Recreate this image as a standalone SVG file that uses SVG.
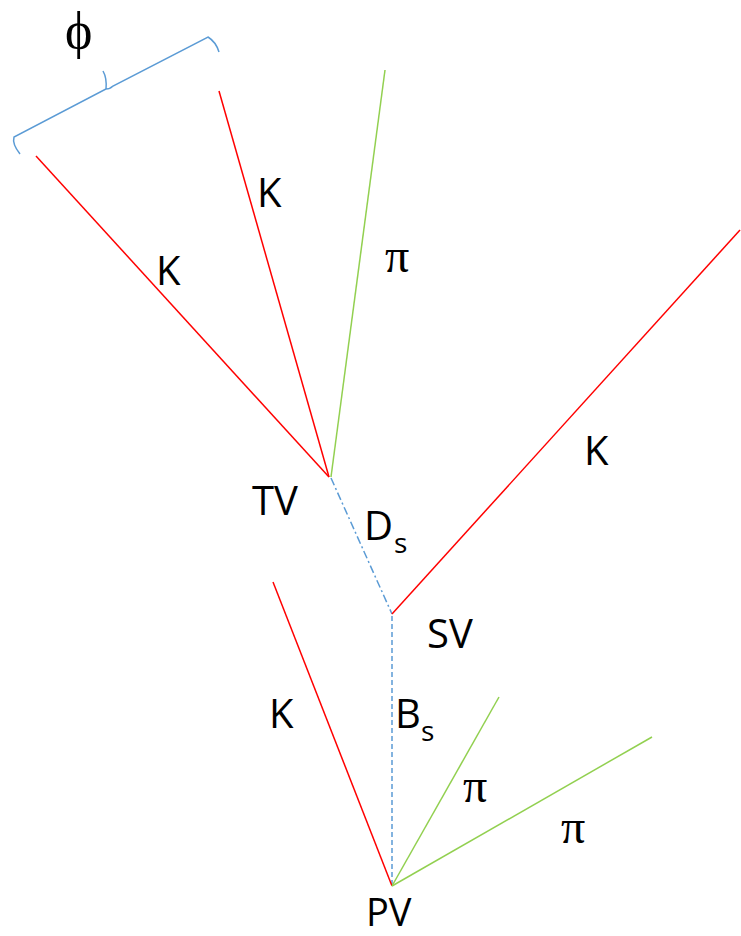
<svg xmlns="http://www.w3.org/2000/svg" width="741" height="936" viewBox="0 0 741 936">
<style>
.k{stroke:#FF0000;stroke-width:1.5;fill:none}
.p{stroke:#92D050;stroke-width:1.5;fill:none}
.b{stroke:#5B9BD5;stroke-width:1.5;fill:none}
.t{font-family:"Open Sans","Liberation Sans",sans-serif;font-size:40px;fill:#000}
.s{font-family:"Open Sans","Liberation Sans",sans-serif;font-size:28px;fill:#000}
.g{font-family:"Liberation Serif","DejaVu Serif",serif;font-size:48px;fill:#000}
.f{font-family:"Liberation Serif","DejaVu Serif",serif;font-size:52px;fill:#000}
</style>
<rect width="741" height="936" fill="#fff"/>
<g id="connectors">
<line class="k" x1="36" y1="156" x2="329" y2="477"/>
<line class="k" x1="219" y1="91" x2="329" y2="477"/>
<line class="p" x1="385" y1="70" x2="331" y2="477"/>
<line class="b" x1="331" y1="478" x2="392" y2="614" stroke-dasharray="8,3,2,3"/>
<line class="k" x1="392" y1="614" x2="740" y2="230"/>
<line class="b" x1="392" y1="616" x2="392" y2="885" stroke-dasharray="5,3"/>
<line class="k" x1="273" y1="582" x2="392" y2="886"/>
<line class="p" x1="392" y1="886" x2="499" y2="697"/>
<line class="p" x1="392" y1="886" x2="652" y2="737"/>
<path class="b" d="M20,154 Q12,144 14,137 L106,89 Q107,78 103,71 M106,89 Q110,89 113,86 L208,37 Q216,42 219,52"/>
</g>
<g id="TV"><text class="t" x="252" y="515">TV</text></g>
<g id="SV"><text class="t" x="427" y="648">SV</text></g>
<g id="PV"><text class="t" x="366" y="926" style="font-size:38px">PV</text></g>
<g id="labels">
<text class="f" x="65" y="48">ϕ</text>
<text class="t" x="156" y="285">K</text>
<text class="t" x="257" y="207">K</text>
<text class="g" x="385" y="272">π</text>
<text class="t" x="584" y="465">K</text>
<text class="t" x="364" y="540">D</text><text class="s" x="394" y="553">s</text>
<text class="t" x="269" y="728">K</text>
<text class="t" x="395" y="728">B</text><text class="s" x="421" y="741">s</text>
<text class="g" x="463" y="802">π</text>
<text class="g" x="561" y="843">π</text>
</g>
</svg>
